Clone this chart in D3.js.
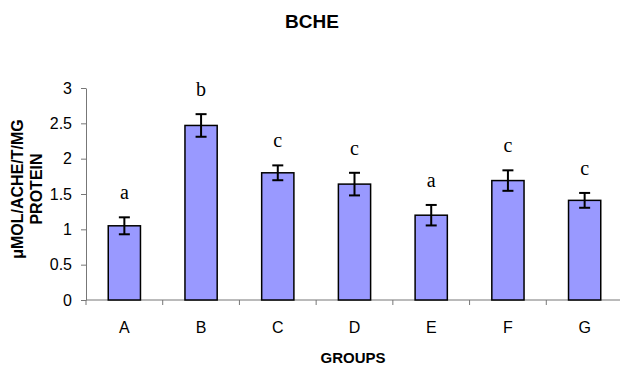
<!DOCTYPE html>
<html>
<head>
<meta charset="utf-8">
<script src="https://cdn.jsdelivr.net/npm/d3@7"></script>
<style>
  body { margin: 0; background: #fff; }
  svg { display: block; }
</style>
</head>
<body>
<svg id="chart"></svg>
<script>
// data
const groups = ['A', 'B', 'C', 'D', 'E', 'F', 'G'];
const means = [1.05, 2.47, 1.80, 1.64, 1.20, 1.69, 1.41];
const errors = [0.12, 0.16, 0.105, 0.16, 0.145, 0.145, 0.105];
const letters = ['a', 'b', 'c', 'c', 'a', 'c', 'c'];
const yTicks = [0, 0.5, 1, 1.5, 2, 2.5, 3];

let width = 620;
let height = 368;
let plot = {left: 86, right: 623, top: 88, bottom: 300};

let svg = d3.select('#chart')
    .attr('width', width)
    .attr('height', height);

let rows = groups.map((g, i) => ({g: g, v: means[i], e: errors[i], l: letters[i]}));

let xScale = d3.scaleBand()
    .domain(groups)
    .range([plot.left, plot.right])
    .padding(0);

let yScale = d3.scaleLinear()
    .domain([0, 3])
    .range([plot.bottom, plot.top]);

let barW = xScale.bandwidth() * 0.42;

// y axis
let yAxis = d3.axisLeft(yScale)
    .tickValues(yTicks)
    .tickFormat(d3.format('~g'))
    .tickSize(5)
    .tickPadding(9)
    .tickSizeOuter(0);

let gy = svg.append('g')
    .attr('transform', 'translate(' + plot.left + ',0)')
    .call(yAxis);
gy.select('.domain').attr('stroke', '#777');
gy.selectAll('.tick line').attr('stroke', '#777');
gy.selectAll('.tick text')
    .attr('fill', '#000')
    .style('font-family', 'Liberation Sans, Arial, sans-serif')
    .style('font-size', '16px');

// x axis line + boundary ticks
svg.append('line')
    .attr('x1', plot.left).attr('x2', plot.right)
    .attr('y1', yScale(0)).attr('y2', yScale(0))
    .attr('stroke', '#777');

let bounds = groups.map(g => xScale(g)).concat([plot.right]);
svg.selectAll('.xtick')
    .data(bounds)
    .enter()
    .append('line')
    .attr('class', 'xtick')
    .attr('x1', d => d).attr('x2', d => d)
    .attr('y1', yScale(0)).attr('y2', yScale(0) + 5)
    .attr('stroke', '#777');

svg.selectAll('.xlabel')
    .data(groups)
    .enter()
    .append('text')
    .attr('class', 'xlabel')
    .attr('x', d => xScale(d) + xScale.bandwidth() / 2)
    .attr('y', 333)
    .attr('text-anchor', 'middle')
    .style('font-family', 'Liberation Sans, Arial, sans-serif')
    .style('font-size', '16px')
    .text(d => d);

// bars
svg.selectAll('.bar')
    .data(rows)
    .enter()
    .append('rect')
    .attr('class', 'bar')
    .attr('x', d => xScale(d.g) + (xScale.bandwidth() - barW) / 2)
    .attr('y', d => yScale(d.v))
    .attr('width', barW)
    .attr('height', d => yScale(0) - yScale(d.v))
    .attr('fill', '#9999ff')
    .attr('stroke', '#000')
    .attr('stroke-width', 1.5);

// error bars
let cap = 5.5;
let eb = svg.selectAll('.err')
    .data(rows)
    .enter()
    .append('g')
    .attr('class', 'err')
    .attr('stroke', '#000')
    .attr('stroke-width', 2);

eb.append('line')
    .attr('x1', d => xScale(d.g) + xScale.bandwidth() / 2)
    .attr('x2', d => xScale(d.g) + xScale.bandwidth() / 2)
    .attr('y1', d => yScale(d.v + d.e))
    .attr('y2', d => yScale(d.v - d.e));
eb.append('line')
    .attr('x1', d => xScale(d.g) + xScale.bandwidth() / 2 - cap)
    .attr('x2', d => xScale(d.g) + xScale.bandwidth() / 2 + cap)
    .attr('y1', d => yScale(d.v + d.e))
    .attr('y2', d => yScale(d.v + d.e));
eb.append('line')
    .attr('x1', d => xScale(d.g) + xScale.bandwidth() / 2 - cap)
    .attr('x2', d => xScale(d.g) + xScale.bandwidth() / 2 + cap)
    .attr('y1', d => yScale(d.v - d.e))
    .attr('y2', d => yScale(d.v - d.e));

// significance letters
svg.selectAll('.sig')
    .data(rows)
    .enter()
    .append('text')
    .attr('class', 'sig')
    .attr('x', d => xScale(d.g) + xScale.bandwidth() / 2)
    .attr('y', d => yScale(d.v + d.e) - 18)
    .attr('text-anchor', 'middle')
    .style('font-family', 'Liberation Serif, Times New Roman, serif')
    .style('font-size', '20px')
    .text(d => d.l);

// titles
svg.append('text')
    .attr('x', 312)
    .attr('y', 28)
    .attr('text-anchor', 'middle')
    .style('font-family', 'Liberation Sans, Arial, sans-serif')
    .style('font-size', '19px')
    .style('font-weight', 'bold')
    .text('BCHE');

svg.append('text')
    .attr('x', 353)
    .attr('y', 363)
    .attr('text-anchor', 'middle')
    .style('font-family', 'Liberation Sans, Arial, sans-serif')
    .style('font-size', '15px')
    .style('font-weight', 'bold')
    .text('GROUPS');

let ylab = svg.append('text')
    .attr('transform', 'rotate(-90)')
    .attr('text-anchor', 'middle')
    .style('font-family', 'Liberation Sans, Arial, sans-serif')
    .style('font-size', '16px')
    .style('font-weight', 'bold');
ylab.append('tspan').attr('x', -189).attr('y', 23).text('μMOL/ACHE/T/MG');
ylab.append('tspan').attr('x', -189).attr('y', 42).text('PROTEIN');
</script>
</body>
</html>
